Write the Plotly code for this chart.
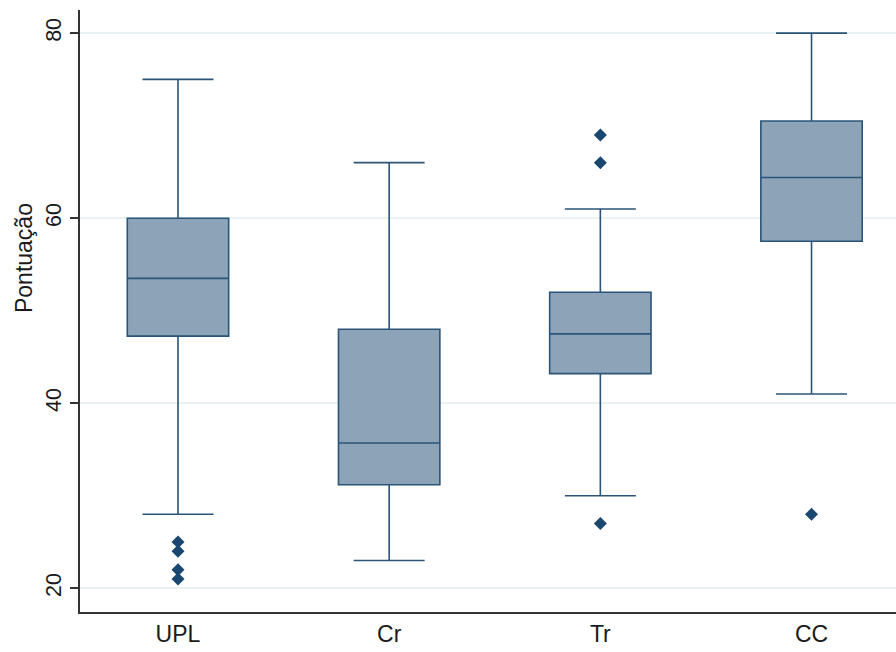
import plotly.graph_objects as go

categories = ["UPL", "Cr", "Tr", "CC"]
q1 = [47.25, 31.2, 43.2, 57.5]
median = [53.5, 35.7, 47.5, 64.4]
q3 = [60.0, 48.0, 52.0, 70.5]
lower_whisker = [28.0, 23.0, 30.0, 41.0]
upper_whisker = [75.0, 66.0, 61.0, 80.0]
outlier_cat = ["UPL", "UPL", "UPL", "UPL", "Tr", "Tr", "Tr", "CC"]
outlier_val = [25, 24, 22, 21, 69, 66, 27, 28]
y_ticks = [20, 40, 60, 80]

line_col = "#2A5478"
fill_col = "#8CA3B8"
mark_col = "#1A476F"

fig = go.Figure()
fig.add_trace(go.Box(
    x=categories, q1=q1, median=median, q3=q3,
    lowerfence=lower_whisker, upperfence=upper_whisker,
    fillcolor=fill_col, line=dict(color=line_col, width=1.6),
    whiskerwidth=0.7, width=0.48, boxpoints=False, showlegend=False,
    hoverinfo="skip",
))
fig.add_trace(go.Scatter(
    x=outlier_cat, y=outlier_val, mode="markers",
    marker=dict(symbol="diamond", size=10, color=mark_col),
    showlegend=False, hoverinfo="skip",
))

fig.update_layout(
    width=896, height=652,
    margin=dict(l=80, r=0, t=10, b=40),
    paper_bgcolor="white", plot_bgcolor="white",
    font=dict(family="Liberation Sans, Arial, sans-serif", size=22, color="#1a1a1a"),
)
fig.add_annotation(
    text="Pontuação", xref="paper", yref="paper",
    x=-0.0686, y=0.588, xanchor="center", yanchor="middle",
    textangle=-90, showarrow=False, font=dict(size=23),
)
fig.update_xaxes(
    type="category", categoryorder="array", categoryarray=categories,
    range=[-0.464, 3.40], showgrid=False, zeroline=False,
    showline=True, linecolor="#333", linewidth=2, ticks="",
    tickfont=dict(size=23), mirror=False,
)
fig.update_yaxes(
    range=[17.44, 82.5], tickvals=y_ticks, ticktext=[str(v) for v in y_ticks],
    tickangle=-90, showgrid=True, gridcolor="#EAF1F3", gridwidth=1.5,
    zeroline=False, showline=True, linecolor="#333", linewidth=2,
    ticks="outside", ticklen=8, tickwidth=2, tickcolor="#333",
    tickfont=dict(size=21.5),
)

fig.write_html("out.html", config={"displayModeBar": False},
               post_script="document.body.style.margin='0px';")
